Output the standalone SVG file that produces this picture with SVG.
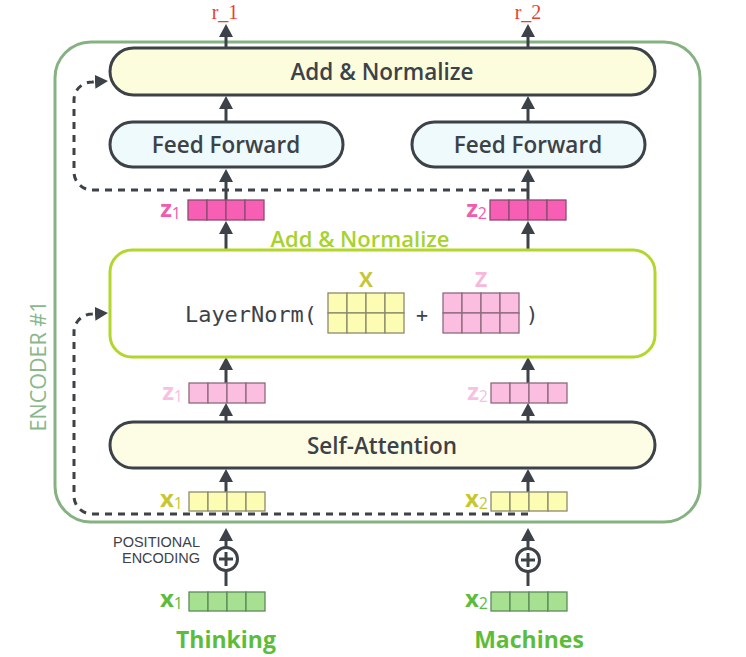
<svg xmlns="http://www.w3.org/2000/svg" width="746" height="657" viewBox="0 0 746 657">
<defs>
<marker id="ah" markerUnits="userSpaceOnUse" markerWidth="14" markerHeight="14" refX="6" refY="7" orient="auto">
<path d="M0,0 L13,7 L0,14 z" fill="#3d4249" stroke="none"/>
</marker>
<style>
.box{stroke:#3d4249;stroke-width:3}
.lbl{font-family:"Open Sans","Noto Sans",sans-serif;font-size:22.5px;font-weight:600;fill:#3d4249;text-anchor:middle}
.arr{stroke:#3d4249;stroke-width:3;fill:none;marker-end:url(#ah)}
.dash{stroke:#3d4249;stroke-width:3;fill:none;stroke-dasharray:7 6;marker-end:url(#ah)}
.cell{stroke-width:1.3}
.pinkS{fill:#f65fb4;stroke:#8c4a72}
.pinkL{fill:#fbbde0;stroke:#8c6a7c}
.yel{fill:#fcfcb2;stroke:#8a8a6c}
.grn{fill:#a6e090;stroke:#5e8a58}
.vl{font-family:"Open Sans","Noto Sans",sans-serif;text-anchor:end}
.vb{font-size:24px;font-weight:700}
.vs{font-size:16px}
.word{font-family:"Open Sans","Noto Sans",sans-serif;font-size:23px;font-weight:700;fill:#5cbd3a;text-anchor:middle}
.rr{font-family:"Liberation Serif",serif;font-size:20px;fill:#e8402c;text-anchor:middle}
.mat{font-family:"Open Sans","Noto Sans",sans-serif;font-size:21px;font-weight:700;text-anchor:middle}
</style>
</defs>
<rect width="746" height="657" fill="#ffffff"/>

<g id="encoder">
<rect x="55" y="42" width="645" height="480" rx="36" fill="none" stroke="#86b283" stroke-width="3"/>
<text transform="translate(46,366) rotate(-90)" font-family="'Open Sans','Noto Sans',sans-serif" font-size="21.5" fill="#8ab88c" text-anchor="middle">ENCODER #1</text>
</g>

<g id="connectors">
<line class="arr" x1="226" y1="48" x2="226" y2="31"/>
<line class="arr" x1="528" y1="48" x2="528" y2="31"/>
<line class="arr" x1="226" y1="122" x2="226" y2="103"/>
<line class="arr" x1="528" y1="122" x2="528" y2="103"/>
<line class="arr" x1="226" y1="200" x2="226" y2="176"/>
<line class="arr" x1="528" y1="200" x2="528" y2="176"/>
<line class="arr" x1="226" y1="250" x2="226" y2="228"/>
<line class="arr" x1="528" y1="250" x2="528" y2="228"/>
<line class="arr" x1="226" y1="383" x2="226" y2="364"/>
<line class="arr" x1="528" y1="383" x2="528" y2="364"/>
<line class="arr" x1="226" y1="422" x2="226" y2="410"/>
<line class="arr" x1="528" y1="422" x2="528" y2="410"/>
<line class="arr" x1="226" y1="492" x2="226" y2="476"/>
<line class="arr" x1="528" y1="492" x2="528" y2="476"/>
<line class="arr" x1="226" y1="547" x2="226" y2="535"/>
<line class="arr" x1="528" y1="548" x2="528" y2="535"/>
<line x1="226" y1="571" x2="226" y2="586" stroke="#3d4249" stroke-width="3"/>
<line x1="528" y1="572" x2="528" y2="586" stroke="#3d4249" stroke-width="3"/>
<path class="dash" d="M528,190 H92 A18,18 0 0 1 74,172 V100 A18,18 0 0 1 92,82 L101,81.5"/>
<path class="dash" d="M528,514 H92 A18,18 0 0 1 74,496 V332 A18,18 0 0 1 92,314 L101,313.5"/>
</g>

<g id="r1"><text class="rr" x="225" y="19">r_1</text></g>
<g id="r2"><text class="rr" x="528" y="19">r_2</text></g>

<g id="addnorm2">
<rect class="box" x="110" y="48" width="545" height="47" rx="23.5" fill="#fcfddc"/>
<text class="lbl" x="382" y="80">Add &amp; Normalize</text>
</g>

<g id="ff1">
<rect class="box" x="110" y="122" width="233" height="45" rx="22.5" fill="#eefafc"/>
<text class="lbl" x="226" y="153">Feed Forward</text>
</g>
<g id="ff2">
<rect class="box" x="412" y="122" width="233" height="45" rx="22.5" fill="#eefafc"/>
<text class="lbl" x="528" y="153">Feed Forward</text>
</g>

<g id="z1out">
<g class="cell pinkS">
<rect x="188" y="200" width="19" height="20"/><rect x="207" y="200" width="19" height="20"/><rect x="226" y="200" width="19" height="20"/><rect x="245" y="200" width="19" height="20"/>
</g>
<text class="vl" x="181" y="217" fill="#f05cb0"><tspan class="vb">z</tspan><tspan class="vs" dy="2">1</tspan></text>
</g>
<g id="z2out">
<g class="cell pinkS">
<rect x="490" y="200" width="19" height="20"/><rect x="509" y="200" width="19" height="20"/><rect x="528" y="200" width="19" height="20"/><rect x="547" y="200" width="19" height="20"/>
</g>
<text class="vl" x="487" y="217" fill="#f05cb0"><tspan class="vb">z</tspan><tspan class="vs" dy="2">2</tspan></text>
</g>

<g id="addnorm1">
<text x="360" y="247" font-family="'Open Sans','Noto Sans',sans-serif" font-size="22" font-weight="600" fill="#a8d22c" text-anchor="middle">Add &amp; Normalize</text>
<rect x="110" y="250" width="545" height="107" rx="22" fill="#ffffff" stroke="#b3d62c" stroke-width="3"/>
<text x="185" y="322" font-family="'DejaVu Sans Mono','Liberation Mono',monospace" font-size="21" fill="#3d4249" textLength="132" lengthAdjust="spacingAndGlyphs">LayerNorm(</text>
<text class="mat" x="366" y="287" fill="#c7c734">X</text>
<g class="cell yel">
<rect x="328" y="293" width="19" height="20"/><rect x="347" y="293" width="19" height="20"/><rect x="366" y="293" width="19" height="20"/><rect x="385" y="293" width="19" height="20"/>
<rect x="328" y="313" width="19" height="20"/><rect x="347" y="313" width="19" height="20"/><rect x="366" y="313" width="19" height="20"/><rect x="385" y="313" width="19" height="20"/>
</g>
<text x="422" y="322" font-family="'DejaVu Sans Mono','Liberation Mono',monospace" font-size="20" fill="#3d4249" text-anchor="middle">+</text>
<text class="mat" x="481" y="287" fill="#f7b8da">Z</text>
<g class="cell pinkL">
<rect x="443" y="293" width="19" height="20"/><rect x="462" y="293" width="19" height="20"/><rect x="481" y="293" width="19" height="20"/><rect x="500" y="293" width="19" height="20"/>
<rect x="443" y="313" width="19" height="20"/><rect x="462" y="313" width="19" height="20"/><rect x="481" y="313" width="19" height="20"/><rect x="500" y="313" width="19" height="20"/>
</g>
<text x="532" y="322" font-family="'DejaVu Sans Mono','Liberation Mono',monospace" font-size="21" fill="#3d4249" text-anchor="middle">)</text>
</g>

<g id="z1">
<g class="cell pinkL">
<rect x="189" y="383" width="19" height="20"/><rect x="208" y="383" width="19" height="20"/><rect x="227" y="383" width="19" height="20"/><rect x="246" y="383" width="19" height="20"/>
</g>
<text class="vl" x="183" y="400" fill="#f8c1df"><tspan class="vb">z</tspan><tspan class="vs" dy="2">1</tspan></text>
</g>
<g id="z2">
<g class="cell pinkL">
<rect x="491" y="383" width="19" height="20"/><rect x="510" y="383" width="19" height="20"/><rect x="529" y="383" width="19" height="20"/><rect x="548" y="383" width="19" height="20"/>
</g>
<text class="vl" x="488" y="400" fill="#f8c1df"><tspan class="vb">z</tspan><tspan class="vs" dy="2">2</tspan></text>
</g>

<g id="selfattn">
<rect class="box" x="110" y="422" width="545" height="46" rx="23" fill="#fdfde6"/>
<text class="lbl" x="382" y="454">Self-Attention</text>
</g>

<g id="x1">
<g class="cell yel">
<rect x="189" y="492" width="19" height="19"/><rect x="208" y="492" width="19" height="19"/><rect x="227" y="492" width="19" height="19"/><rect x="246" y="492" width="19" height="19"/>
</g>
<text class="vl" x="183" y="507" fill="#c8c82e"><tspan class="vb">x</tspan><tspan class="vs" dy="2">1</tspan></text>
</g>
<g id="x2">
<g class="cell yel">
<rect x="491" y="492" width="19" height="19"/><rect x="510" y="492" width="19" height="19"/><rect x="529" y="492" width="19" height="19"/><rect x="548" y="492" width="19" height="19"/>
</g>
<text class="vl" x="488" y="507" fill="#c8c82e"><tspan class="vb">x</tspan><tspan class="vs" dy="2">2</tspan></text>
</g>

<g id="posenc">
<text x="200" y="547" font-family="'Liberation Sans',sans-serif" font-size="14" fill="#3d4249" text-anchor="end" textLength="87" lengthAdjust="spacingAndGlyphs">POSITIONAL</text>
<text x="200" y="563" font-family="'Liberation Sans',sans-serif" font-size="14" fill="#3d4249" text-anchor="end" textLength="78" lengthAdjust="spacingAndGlyphs">ENCODING</text>
</g>
<g id="plus1">
<circle cx="226" cy="559" r="11.5" fill="#ffffff" stroke="#3d4249" stroke-width="3"/>
<path d="M219,559 H233 M226,552 V566" stroke="#3d4249" stroke-width="3"/>
</g>
<g id="plus2">
<circle cx="528" cy="560" r="11.5" fill="#ffffff" stroke="#3d4249" stroke-width="3"/>
<path d="M521,560 H535 M528,553 V567" stroke="#3d4249" stroke-width="3"/>
</g>

<g id="x1in">
<g class="cell grn">
<rect x="189" y="592" width="19" height="19"/><rect x="208" y="592" width="19" height="19"/><rect x="227" y="592" width="19" height="19"/><rect x="246" y="592" width="19" height="19"/>
</g>
<text class="vl" x="183" y="607" fill="#5cbd3a"><tspan class="vb">x</tspan><tspan class="vs" dy="2">1</tspan></text>
</g>
<g id="x2in">
<g class="cell grn">
<rect x="491" y="592" width="19" height="19"/><rect x="510" y="592" width="19" height="19"/><rect x="529" y="592" width="19" height="19"/><rect x="548" y="592" width="19" height="19"/>
</g>
<text class="vl" x="488" y="607" fill="#5cbd3a"><tspan class="vb">x</tspan><tspan class="vs" dy="2">2</tspan></text>
</g>

<g id="thinking"><text class="word" x="226" y="648">Thinking</text></g>
<g id="machines"><text class="word" x="529" y="648">Machines</text></g>
</svg>
